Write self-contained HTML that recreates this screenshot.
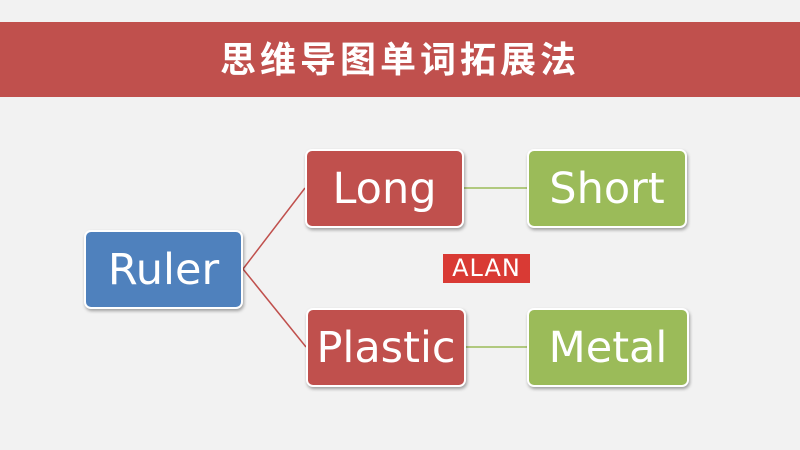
<!DOCTYPE html>
<html><head><meta charset="utf-8"><style>
body{margin:0;width:800px;height:450px;background:#f2f2f2;position:relative;overflow:hidden;font-family:"Liberation Sans","Noto Sans CJK SC",sans-serif}
.banner{position:absolute;left:0;top:22px;width:800px;height:75px;background:#c0504d;color:#fff;font-size:36px;font-weight:bold;text-align:center;line-height:75px;letter-spacing:4px}
.b{position:absolute;border:2px solid #fff;border-radius:7px;box-sizing:border-box;color:#fff;font-family:"DejaVu Sans","Liberation Sans",sans-serif;font-size:43px;text-align:center;box-shadow:1px 2px 3px rgba(0,0,0,.35);display:flex;align-items:center;justify-content:center}
.blue{background:#4f81bd}.red{background:#c0504d}.green{background:#9bbb59}
.logo{position:absolute;left:443px;top:254px;width:87px;height:29px;background:#d93a34;color:#fff;font-size:24px;font-family:"DejaVu Sans",sans-serif;text-align:center;line-height:29px;letter-spacing:1px}
</style></head><body>
<div class="banner">思维导图单词拓展法</div>
<svg width="800" height="450" style="position:absolute;left:0;top:0">
<line x1="243" y1="269" x2="305" y2="188" stroke="#c0504d" stroke-width="1.5"/>
<line x1="243" y1="269" x2="306" y2="347" stroke="#c0504d" stroke-width="1.5"/>
<line x1="463" y1="188" x2="527" y2="188" stroke="#9bbb59" stroke-width="1.5"/>
<line x1="465" y1="347" x2="527" y2="347" stroke="#9bbb59" stroke-width="1.5"/>
</svg>
<div class="b blue" style="left:84px;top:230px;width:159px;height:79px">Ruler</div>
<div class="b red" style="left:305px;top:149px;width:159px;height:79px">Long</div>
<div class="b green" style="left:527px;top:149px;width:160px;height:79px">Short</div>
<div class="b red" style="left:306px;top:308px;width:160px;height:79px">Plastic</div>
<div class="b green" style="left:527px;top:308px;width:162px;height:79px">Metal</div>
<div class="logo">ALAN</div>
</body></html>
